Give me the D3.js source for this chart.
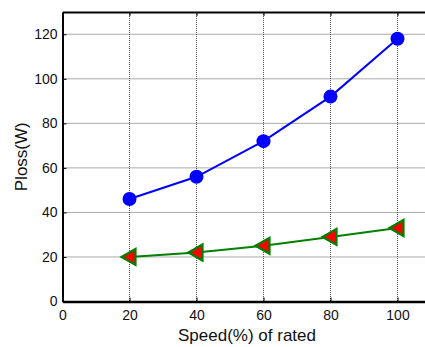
<!DOCTYPE html>
<html>
<head>
<meta charset="utf-8">
<script src="https://cdn.jsdelivr.net/npm/d3@7"></script>
<style>
  body { margin: 0; background: #fff; }
  svg { display: block; font-family: 'Liberation Sans', Arial, sans-serif; }
</style>
</head>
<body>
<svg width="425" height="347"></svg>
<script>
const speeds = [20, 40, 60, 80, 100];
const lossBlue = [46, 56, 72, 92, 118];
const lossGreen = [20, 22, 25, 29, 33];
const xTicks = [0, 20, 40, 60, 80, 100];
const yTicks = [0, 20, 40, 60, 80, 100, 120];

const svg = d3.select('svg');
const mLeft = 62.5, mTop = 12, mRight = 431, mBottom = 301.5;

const x = d3.scaleLinear().domain([0, 110]).range([mLeft, mRight]);
const y = d3.scaleLinear().domain([0, 130]).range([mBottom, mTop]);

// grid
const grid = svg.append('g');
grid.selectAll('.gx').data(xTicks.slice(1)).enter().append('line')
  .attr('x1', d => x(d)).attr('x2', d => x(d))
  .attr('y1', mTop).attr('y2', mBottom)
  .attr('stroke', '#555').attr('stroke-width', 1).attr('stroke-dasharray', '1,1');
grid.selectAll('.gy').data(yTicks.slice(1)).enter().append('line')
  .attr('x1', mLeft).attr('x2', mRight)
  .attr('y1', d => y(d)).attr('y2', d => y(d))
  .attr('stroke', '#555').attr('stroke-width', 1).attr('stroke-dasharray', '1,1');

// axes
svg.append('g')
  .attr('transform', `translate(0,${mBottom})`)
  .call(d3.axisBottom(x).tickValues(xTicks).tickSizeInner(-4).tickSizeOuter(0).tickPadding(9))
  .call(g => g.select('.domain').attr('stroke-width', 2.5))
  .call(g => g.selectAll('text').attr('font-size', 14).attr('fill', '#111'));

svg.append('g')
  .attr('transform', `translate(${mLeft},0)`)
  .call(d3.axisLeft(y).tickValues(yTicks).tickSizeInner(-4).tickSizeOuter(0).tickPadding(5))
  .call(g => g.select('.domain').attr('stroke-width', 2))
  .call(g => g.selectAll('text').attr('font-size', 14).attr('fill', '#111'));

svg.append('g')
  .attr('transform', `translate(0,${mTop})`)
  .call(d3.axisTop(x).tickValues(xTicks).tickSizeInner(-4).tickSizeOuter(0).tickFormat(''))
  .call(g => g.select('.domain').attr('stroke-width', 2));

// series
const blue = speeds.map((s, i) => [s, lossBlue[i]]);
const green = speeds.map((s, i) => [s, lossGreen[i]]);
const line = d3.line().x(d => x(d[0])).y(d => y(d[1]));

svg.append('path').datum(blue).attr('d', line)
  .attr('fill', 'none').attr('stroke', '#0000ff').attr('stroke-width', 2);
svg.selectAll('.cb').data(blue).enter().append('circle')
  .attr('cx', d => x(d[0])).attr('cy', d => y(d[1])).attr('r', 7)
  .attr('fill', '#0000ff');

svg.append('path').datum(green).attr('d', line)
  .attr('fill', 'none').attr('stroke', '#008000').attr('stroke-width', 2);
svg.selectAll('.tg').data(green).enter().append('path')
  .attr('transform', d => `translate(${x(d[0])},${y(d[1])})`)
  .attr('d', 'M-8,0 L6,-8 L6,8 Z')
  .attr('fill', '#ff0000').attr('stroke', '#008000').attr('stroke-width', 2.2)
  .attr('stroke-linejoin', 'miter');

// titles
svg.append('text')
  .attr('transform', `translate(27,${(mTop + mBottom) / 2}) rotate(-90)`)
  .attr('text-anchor', 'middle').attr('font-size', 17).attr('fill', '#111')
  .text('Ploss(W)');
svg.append('text')
  .attr('x', 247).attr('y', 341)
  .attr('text-anchor', 'middle').attr('font-size', 17).attr('fill', '#111')
  .text('Speed(%) of rated');
</script>
</body>
</html>
